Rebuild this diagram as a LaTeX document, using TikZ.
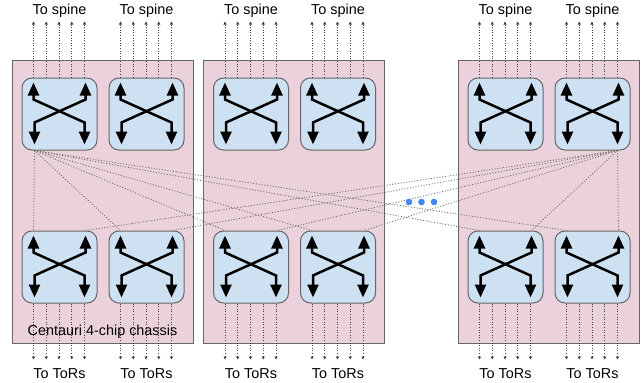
\documentclass[tikz,border=0pt]{standalone}
\usepackage{fontspec}
\setmainfont{Liberation Sans}
\usetikzlibrary{arrows.meta,calc}
\definecolor{chassispink}{RGB}{234,209,220}
\definecolor{chipblue}{RGB}{206,225,242}
\definecolor{edgegray}{RGB}{102,102,102}
\definecolor{dotblue}{RGB}{66,133,244}

\begin{document}
\begin{tikzpicture}[x=1pt, y=-1pt,
  every node/.style={font=\fontsize{14.4}{16}\selectfont},
  chassis/.style={draw=edgegray, fill=chassispink, line width=1pt, minimum width=181pt, minimum height=283pt, inner sep=0pt},
  chip/.style={draw=edgegray, fill=chipblue, line width=1pt, rounded corners=10pt, minimum width=75pt, minimum height=72pt, inner sep=0pt},
  xarrow/.style={line width=2.5pt, {Triangle[length=13pt,width=11pt]}-{Triangle[length=13pt,width=11pt]}},
  link/.style={draw=black!75, line width=0.8pt, dash pattern=on 1pt off 1.6pt, -{Triangle[length=3pt,width=3pt]}},
  mesh/.style={draw=black!60, line width=0.8pt, dash pattern=on 1pt off 1.8pt}]
\useasboundingbox (0,0) rectangle (641,383);

% three chassis
\node[chassis] (c1) at (102.5,201.5) {};
\node[chassis] (c2) at (294,201.5) {};
\node[chassis] (c3) at (548.5,201.5) {};

% chips: top row faces the spine, bottom row faces the ToRs
\foreach \i/\x in {1/59.5, 2/146.5, 3/251, 4/338, 5/505.5, 6/592.5} {
  \node[chip] (t\i) at (\x,114) {};
  \node[chip] (b\i) at (\x,267) {};
}

% mesh from the two outer top chips down to every bottom chip
\foreach \i in {1,...,6} {
  \draw[mesh] ($(t1.south west)+(13,0)$) -- ($(b\i.north west)+(12,0)$);
  \draw[mesh] ($(t6.south east)+(-13,0)$) -- ($(b\i.north east)+(-12,0)$);
}

% crossbar arrows inside each chip
\foreach \n in {t1,t2,t3,t4,t5,t6,b1,b2,b3,b4,b5,b6} {
  \draw[xarrow] ($(\n.north west)+(12,5)$) -- ++(0,17) -- ++(51,23) -- ++(0,22);
  \draw[xarrow] ($(\n.north east)+(-12,5)$) -- ++(0,17) -- ++(-51,23) -- ++(0,22);
}

% uplinks and downlinks
\foreach \i in {1,...,6} {
  \foreach \k in {0,...,4} {
    \draw[link] ($(t\i.north west)+(12+12.75*\k,0)$) -- ++(0,-56);
    \draw[link] ($(b\i.south west)+(12+12.75*\k,0)$) -- ++(0,56);
  }
  \node (sp\i) at ($(t\i.north)+(0,-67)$) {To spine};
  \node (tor\i) at ($(b\i.south)+(0,70)$) {To ToRs};
}
\node (cname) at ($(c1.south)+(0,-11.5)$) {Centauri 4-chip chassis};

% more chassis
\foreach \x in {409,421.5,434}
  \fill[dotblue] (\x,202) circle (3.3pt);
\end{tikzpicture}
\end{document}
